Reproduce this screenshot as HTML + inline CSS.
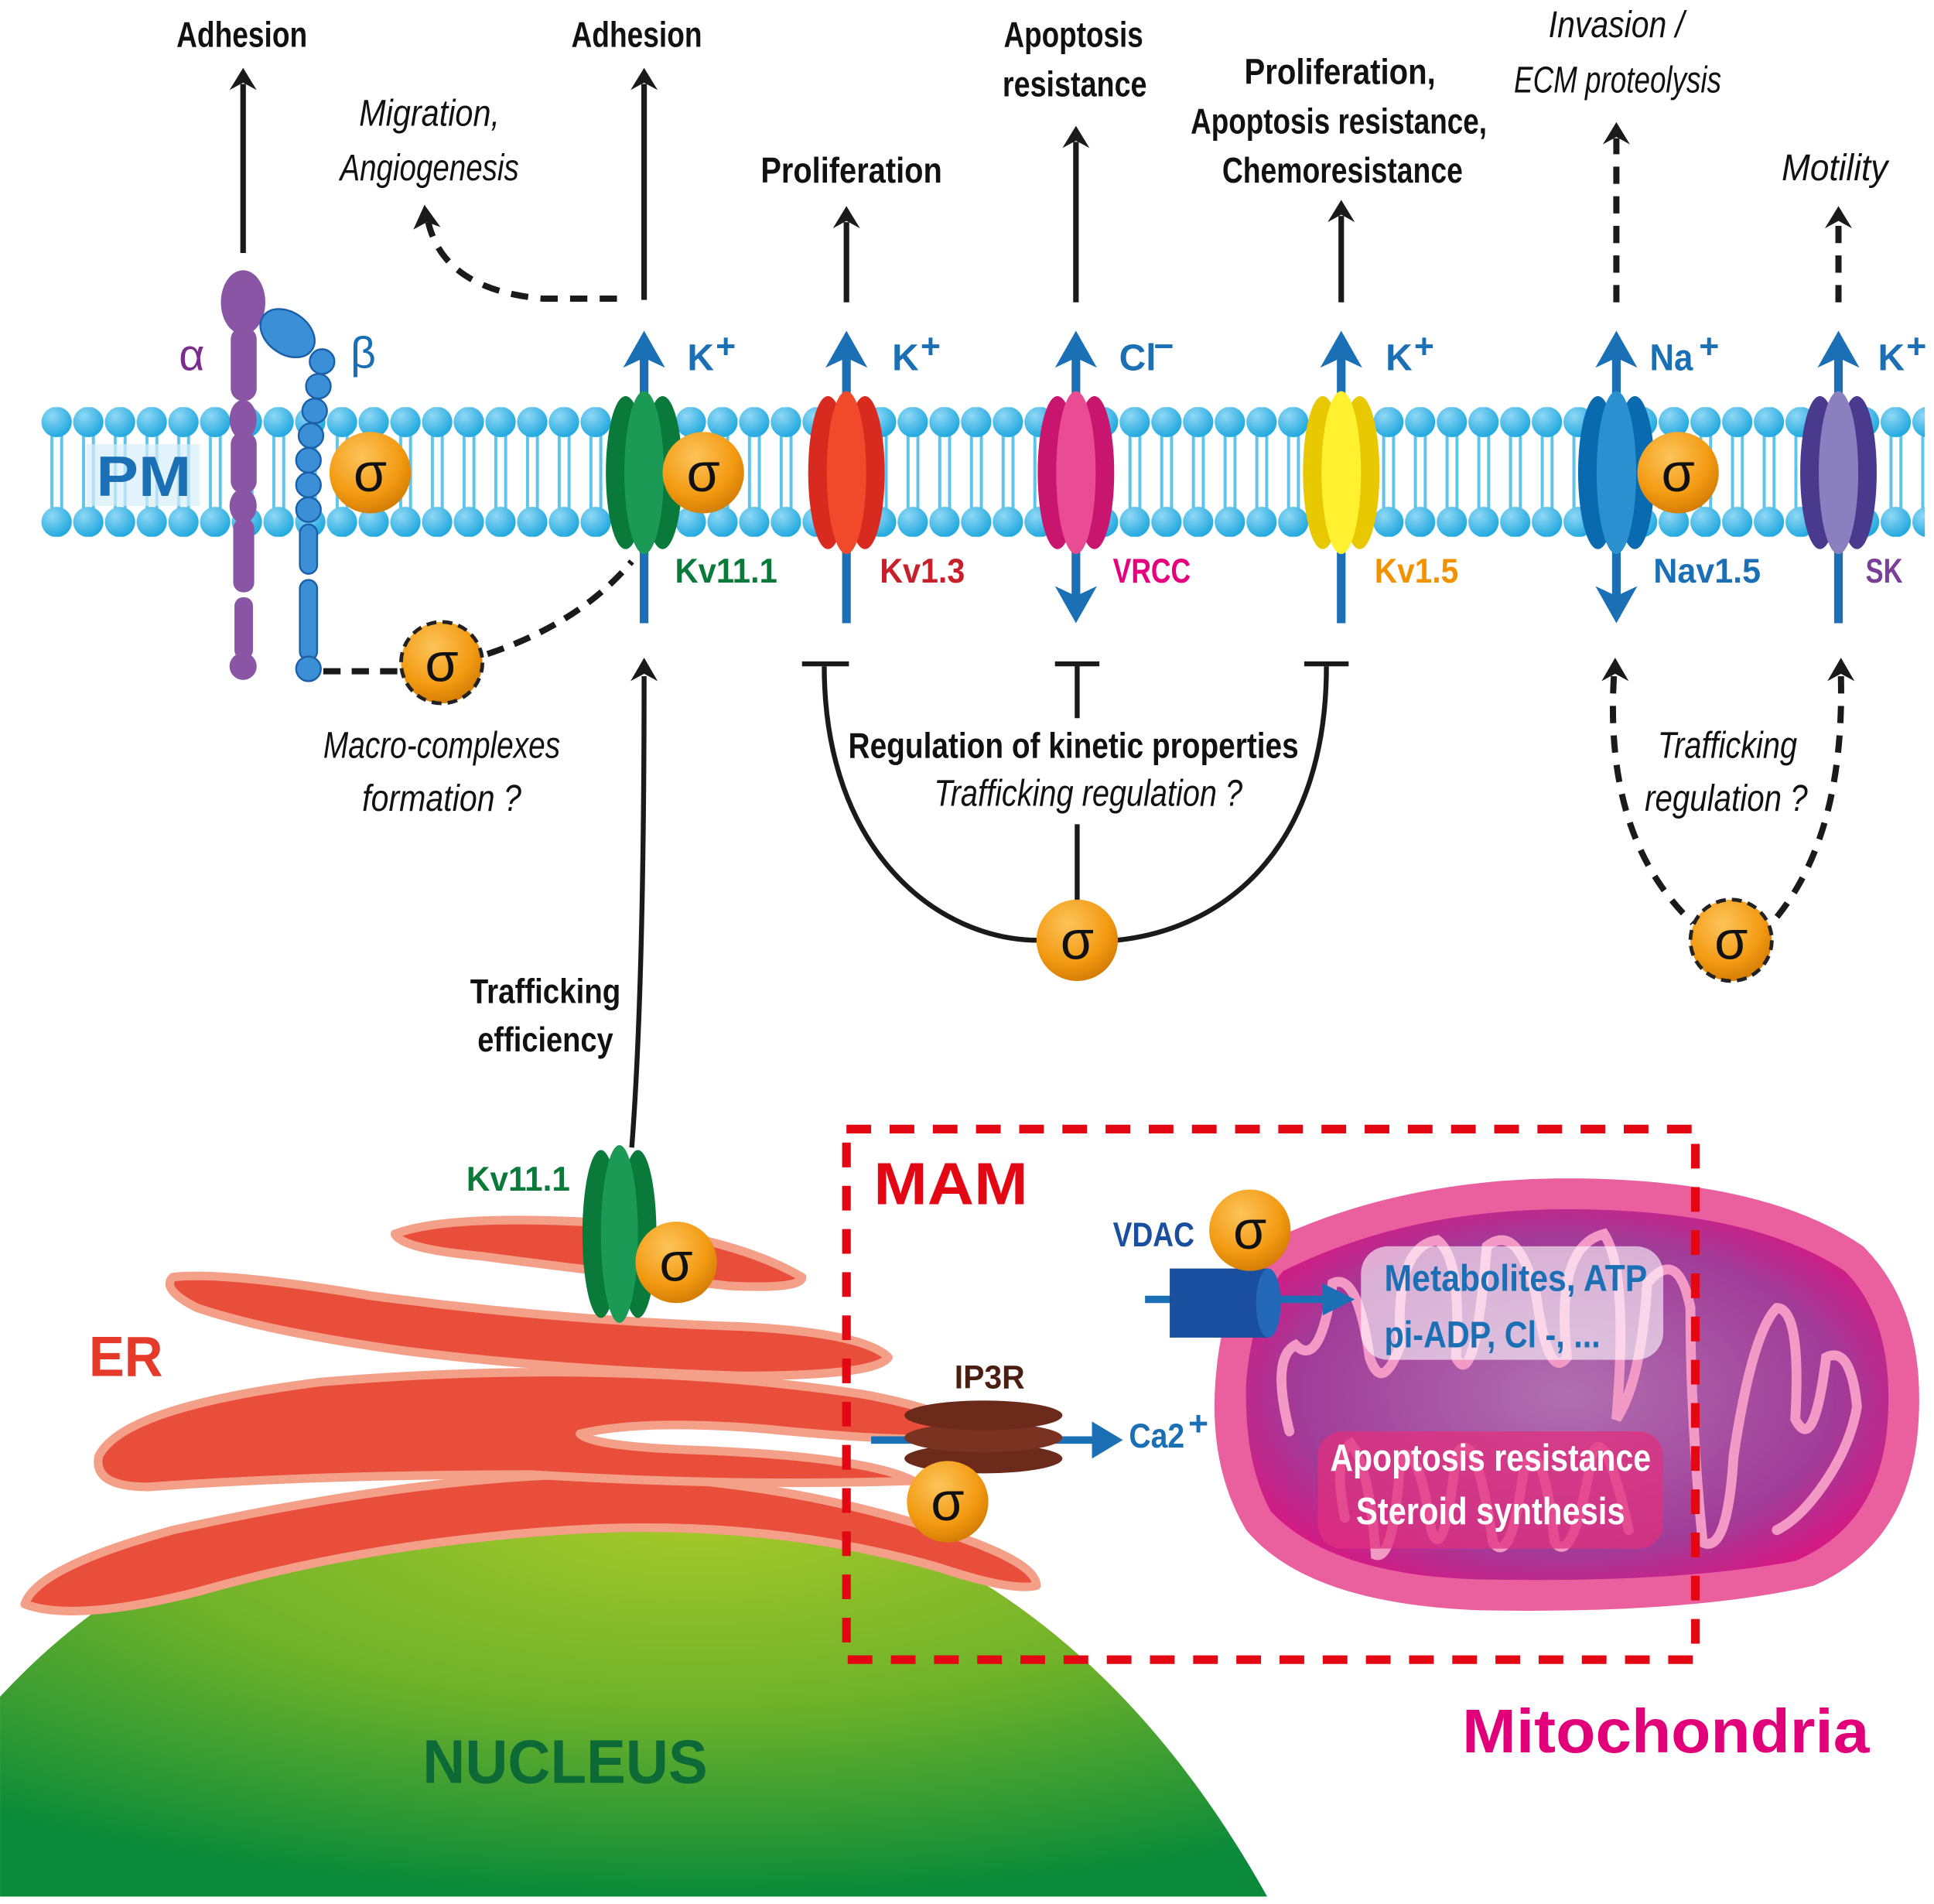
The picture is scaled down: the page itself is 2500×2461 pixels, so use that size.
<!DOCTYPE html>
<html><head><meta charset="utf-8"><style>
html,body{margin:0;padding:0;background:#fff}
svg{display:block}
text{font-family:"Liberation Sans Narrow","Liberation Sans",sans-serif}
.b{font-weight:bold}
.i{font-style:italic}
</style></head><body>
<svg width="2500" height="2461" viewBox="0 0 1567.4 1543" xmlns="http://www.w3.org/2000/svg">
<defs>
<radialGradient id="sg" cx="0.4" cy="0.3" r="0.8"><stop offset="0" stop-color="#fcc45a"/><stop offset="0.6" stop-color="#f39a12"/><stop offset="1" stop-color="#c87300"/></radialGradient>
<radialGradient id="hg" cx="0.35" cy="0.3" r="0.8"><stop offset="0" stop-color="#8fd8f5"/><stop offset="1" stop-color="#14a3dc"/></radialGradient>
<radialGradient id="ng" cx="0.55" cy="0.1" r="0.9"><stop offset="0" stop-color="#a6c82a"/><stop offset="0.5" stop-color="#6fb22a"/><stop offset="1" stop-color="#0a8a3a"/></radialGradient>
<radialGradient id="mg" cx="0.5" cy="0.5" r="0.6"><stop offset="0" stop-color="#b070b0"/><stop offset="0.7" stop-color="#a03c98"/><stop offset="1" stop-color="#e0127e"/></radialGradient>
<pattern id="lip" x="33" y="330" width="25.7" height="105" patternUnits="userSpaceOnUse">
<line x1="9" y1="20" x2="9" y2="86" stroke="#5ec4ec" stroke-width="2.5"/>
<line x1="17" y1="20" x2="17" y2="86" stroke="#5ec4ec" stroke-width="2.5"/>
<circle cx="12.85" cy="12" r="12.3" fill="url(#hg)"/>
<circle cx="12.85" cy="93" r="12.3" fill="url(#hg)"/>
</pattern>
</defs>

<!-- Nucleus -->
<path d="M0 1537 L0 1375 Q190 1170 530 1200 Q850 1220 1027 1537 Z" fill="url(#ng)"/>
<text x="458" y="1445" class="b" font-size="50" fill="#0b6a35" text-anchor="middle" textLength="231" lengthAdjust="spacingAndGlyphs">NUCLEUS</text>

<!-- ER -->
<g fill="#e84e3a" stroke="#f4a088" stroke-width="7" stroke-linejoin="round">
<path d="M20 1300 Q30 1270 140 1240 Q320 1200 460 1195 Q620 1195 760 1240 Q840 1265 840 1285 Q820 1290 760 1270 Q620 1230 460 1240 Q300 1250 160 1290 Q60 1315 20 1300 Z"/>
<path d="M80 1180 Q100 1140 260 1120 Q500 1100 700 1130 Q780 1145 790 1165 Q740 1170 620 1158 Q520 1150 470 1162 Q480 1172 560 1175 Q700 1180 740 1200 Q600 1205 430 1195 Q260 1195 120 1205 Q75 1205 80 1180 Z"/>
<path d="M140 1035 Q180 1030 300 1050 Q450 1070 600 1075 Q700 1080 720 1100 Q710 1115 600 1115 Q450 1110 330 1095 Q220 1080 160 1060 Q130 1045 140 1035 Z"/>
<path d="M320 1000 Q360 985 470 990 Q590 1000 650 1035 Q650 1045 590 1042 Q480 1030 390 1018 Q325 1012 320 1000 Z"/>
</g>
<text x="72" y="1115" class="b" font-size="46" fill="#e53a2a" textLength="60" lengthAdjust="spacingAndGlyphs">ER</text>

<!-- Mitochondria -->
<path d="M1020 1010 Q1130 955 1270 955 Q1430 955 1510 1010 Q1560 1060 1555 1150 Q1550 1250 1470 1285 Q1370 1308 1200 1305 Q1060 1300 1010 1240 Q980 1190 985 1120 Q990 1050 1020 1010 Z" fill="#ea5f9e"/>
<path d="M1040 1030 Q1140 980 1270 980 Q1420 980 1495 1030 Q1535 1070 1530 1150 Q1525 1235 1455 1265 Q1360 1283 1200 1280 Q1080 1277 1030 1225 Q1008 1185 1010 1120 Q1015 1060 1040 1030 Z" fill="url(#mg)"/>
<path d="M1045 1160 Q1030 1100 1050 1090 Q1070 1110 1080 1040 Q1100 1030 1110 1100 Q1120 1130 1135 1090 Q1130 1010 1165 1005 Q1185 1020 1180 1100 Q1195 1130 1205 1010 Q1230 990 1245 1050 Q1255 1120 1270 1100 Q1260 1010 1300 1000 Q1320 1030 1310 1150 Q1330 1120 1335 1040 Q1360 1010 1370 1060 Q1370 1150 1380 1250 Q1400 1260 1405 1180 Q1420 1080 1440 1060 Q1460 1060 1455 1150 Q1470 1180 1480 1100 Q1500 1090 1505 1140 Q1500 1170 1480 1200 Q1460 1230 1440 1240 M1090 1230 Q1080 1180 1095 1170 Q1110 1190 1115 1260 Q1130 1265 1135 1180 Q1150 1170 1160 1240 Q1170 1270 1180 1180 Q1195 1150 1210 1250 Q1225 1270 1235 1190 Q1250 1160 1260 1250 Q1275 1270 1290 1180 Q1300 1150 1320 1240" fill="none" stroke="#f29ac5" stroke-width="8" stroke-linecap="round"/>
<rect x="1103" y="1010" width="245" height="92" rx="22" fill="#fff" opacity="0.6"/>
<text x="1122" y="1046" class="b" font-size="30" fill="#1a6fb5" textLength="213" lengthAdjust="spacingAndGlyphs">Metabolites, ATP</text>
<text x="1122" y="1092" class="b" font-size="30" fill="#1a6fb5" textLength="175" lengthAdjust="spacingAndGlyphs">pi-ADP, Cl -, ...</text>
<rect x="1068" y="1160" width="280" height="95" rx="20" fill="#e0307e" opacity="0.75"/>
<text x="1208" y="1192" class="b" font-size="31" fill="#fff" text-anchor="middle" textLength="260" lengthAdjust="spacingAndGlyphs">Apoptosis resistance</text>
<text x="1208" y="1235" class="b" font-size="31" fill="#fff" text-anchor="middle" textLength="218" lengthAdjust="spacingAndGlyphs">Steroid synthesis</text>
<text x="1350" y="1420" class="b" font-size="50" fill="#e2007a" text-anchor="middle" textLength="330" lengthAdjust="spacingAndGlyphs">Mitochondria</text>

<!-- MAM -->
<rect x="686" y="915" width="688" height="430" fill="none" stroke="#e30613" stroke-width="7" stroke-dasharray="20 15"/>
<text x="708" y="976" class="b" font-size="48" fill="#e30613" textLength="125" lengthAdjust="spacingAndGlyphs">MAM</text>

<!-- VDAC -->
<line x1="928" y1="1053" x2="1080" y2="1053" stroke="#1a6fb5" stroke-width="6"/>
<polygon points="1072,1040 1098,1053 1072,1066" fill="#1a6fb5"/>
<rect x="948" y="1028" width="80" height="56" fill="#1a4f9f"/>
<ellipse cx="1028" cy="1056" rx="10" ry="28" fill="#2468b8"/>
<text x="902" y="1010" class="b" font-size="28" fill="#1a4f9f" textLength="66" lengthAdjust="spacingAndGlyphs">VDAC</text>
<circle cx="1013" cy="997" r="33" fill="url(#sg)"/><text x="1013" y="1012" font-size="44" text-anchor="middle" fill="#111">σ</text>

<!-- IP3R -->
<line x1="706" y1="1167" x2="895" y2="1167" stroke="#1a6fb5" stroke-width="6"/>
<polygon points="885,1152 910,1167 885,1182" fill="#1a6fb5"/>
<ellipse cx="797" cy="1182" rx="64" ry="12" fill="#6b2a1a"/>
<ellipse cx="797" cy="1165" rx="64" ry="12" fill="#7a3320"/>
<ellipse cx="797" cy="1147" rx="64" ry="12" fill="#6b2a1a"/>
<text x="802" y="1125" class="b" font-size="27" fill="#4a1e10" text-anchor="middle" textLength="57" lengthAdjust="spacingAndGlyphs">IP3R</text>
<text x="915" y="1173" class="b" font-size="28" fill="#1a6fb5" textLength="45" lengthAdjust="spacingAndGlyphs">Ca2</text><text x="963" y="1163" class="b" font-size="28" fill="#1a6fb5">+</text>
<circle cx="768" cy="1217" r="33" fill="url(#sg)"/><text x="768" y="1232" font-size="44" text-anchor="middle" fill="#111">σ</text>

<!-- ER Kv11.1 -->
<g fill="#0a7a3a"><ellipse cx="487" cy="1000" rx="15" ry="68"/><ellipse cx="517" cy="1000" rx="15" ry="68"/><ellipse cx="502" cy="1000" rx="15" ry="72" fill="#1a9a55"/></g>
<text x="378" y="965" class="b" font-size="28" fill="#0a7a3a" textLength="84" lengthAdjust="spacingAndGlyphs">Kv11.1</text>
<circle cx="548" cy="1023" r="33" fill="url(#sg)"/><text x="548" y="1038" font-size="44" text-anchor="middle" fill="#111">σ</text>
<path d="M512 930 Q522 800 522 548" fill="none" stroke="#1a1a1a" stroke-width="4"/>
<polygon points="511,552 522,533 533,552 522,546" fill="#1a1a1a"/>
<text x="442" y="813" class="b" font-size="28" fill="#111" text-anchor="middle" textLength="122" lengthAdjust="spacingAndGlyphs">Trafficking</text>
<text x="442" y="852" class="b" font-size="28" fill="#111" text-anchor="middle" textLength="110" lengthAdjust="spacingAndGlyphs">efficiency</text>

<!-- Membrane -->
<rect x="33" y="330" width="1527" height="105" fill="url(#lip)"/>
<rect x="70" y="360" width="92" height="50" fill="#d6eefa" opacity="0.7"/>
<text x="78" y="402" class="b" font-size="46" fill="#1a6fb5" textLength="77" lengthAdjust="spacingAndGlyphs">PM</text>

<!-- Integrin -->
<g fill="#8a55a5">
<ellipse cx="197" cy="245" rx="18" ry="26"/>
<rect x="187" y="265" width="21" height="60" rx="10"/>
<ellipse cx="197" cy="340" rx="11" ry="16"/><rect x="187" y="350" width="21" height="50" rx="10"/>
<ellipse cx="197" cy="410" rx="11" ry="14"/><rect x="189" y="420" width="17" height="60" rx="8"/>
<rect x="190" y="484" width="15" height="50" rx="7"/><circle cx="197" cy="540" r="11"/>
</g>
<text x="145" y="300" font-size="36" fill="#7b2d8e">α</text>
<g fill="#3a8fd6" stroke="#1a5fa8" stroke-width="1.5">
<ellipse cx="233" cy="270" rx="24" ry="17" transform="rotate(35 233 270)"/>
<circle cx="261" cy="293" r="10"/><circle cx="258" cy="313" r="10"/><circle cx="255" cy="333" r="10"/>
<circle cx="252" cy="353" r="10"/><circle cx="250" cy="373" r="10"/><circle cx="250" cy="393" r="10"/><circle cx="250" cy="413" r="10"/>
<rect x="243" y="425" width="14" height="40" rx="7"/><rect x="243" y="470" width="14" height="65" rx="7"/>
<circle cx="250" cy="542" r="10"/>
</g>
<text x="284" y="298" font-size="36" fill="#1a6fb5">β</text>
<circle cx="300" cy="383" r="33" fill="url(#sg)"/><text x="300" y="398" font-size="44" text-anchor="middle" fill="#111">σ</text>
<path d="M262 544 L325 544" fill="none" stroke="#1a1a1a" stroke-width="5" stroke-dasharray="14 9"/>
<path d="M395 530 Q470 505 512 455" fill="none" stroke="#1a1a1a" stroke-width="5" stroke-dasharray="14 9"/>
<circle cx="358" cy="537" r="33" fill="url(#sg)" stroke="#222" stroke-width="3" stroke-dasharray="8 5"/><text x="358" y="552" font-size="44" text-anchor="middle" fill="#111">σ</text>
<text x="358" y="614" class="i" font-size="30" fill="#111" text-anchor="middle" textLength="192" lengthAdjust="spacingAndGlyphs">Macro-complexes</text>
<text x="358" y="657" class="i" font-size="30" fill="#111" text-anchor="middle" textLength="129" lengthAdjust="spacingAndGlyphs">formation ?</text>

<!-- Blue ion arrows -->
<g stroke="#1a6fb5" stroke-width="7" fill="none">
<line x1="522" y1="505" x2="522" y2="285"/><line x1="686" y1="505" x2="686" y2="285"/>
<line x1="872" y1="490" x2="872" y2="285"/><line x1="1087" y1="505" x2="1087" y2="285"/>
<line x1="1310" y1="490" x2="1310" y2="285"/><line x1="1490" y1="505" x2="1490" y2="285"/>
</g>
<g fill="#1a6fb5">
<polygon points="505,298 522,268 539,298 522,290"/><polygon points="669,298 686,268 703,298 686,290"/>
<polygon points="855,298 872,268 889,298 872,290"/><polygon points="1070,298 1087,268 1104,298 1087,290"/>
<polygon points="1293,298 1310,268 1327,298 1310,290"/><polygon points="1473,298 1490,268 1507,298 1490,290"/>
<polygon points="855,475 872,505 889,475 872,483"/><polygon points="1293,475 1310,505 1327,475 1310,483"/>
</g>

<!-- Channels -->
<g><ellipse cx="507" cy="383" rx="16" ry="62" fill="#0a7a3a"/><ellipse cx="537" cy="383" rx="16" ry="62" fill="#0a7a3a"/><ellipse cx="522" cy="383" rx="16" ry="66" fill="#1a9a55"/></g>
<circle cx="570" cy="383" r="33" fill="url(#sg)"/><text x="570" y="398" font-size="44" text-anchor="middle" fill="#111">σ</text>
<g><ellipse cx="671" cy="383" rx="16" ry="62" fill="#d92a1f"/><ellipse cx="701" cy="383" rx="16" ry="62" fill="#d92a1f"/><ellipse cx="686" cy="383" rx="16" ry="66" fill="#f04a2a"/></g>
<g><ellipse cx="857" cy="383" rx="16" ry="62" fill="#c8156e"/><ellipse cx="887" cy="383" rx="16" ry="62" fill="#c8156e"/><ellipse cx="872" cy="383" rx="16" ry="66" fill="#ea4c94"/></g>
<g><ellipse cx="1072" cy="383" rx="16" ry="62" fill="#e8c800"/><ellipse cx="1102" cy="383" rx="16" ry="62" fill="#e8c800"/><ellipse cx="1087" cy="383" rx="16" ry="66" fill="#fff030"/></g>
<g><ellipse cx="1295" cy="383" rx="16" ry="62" fill="#0a6ab0"/><ellipse cx="1325" cy="383" rx="16" ry="62" fill="#0a6ab0"/><ellipse cx="1310" cy="383" rx="16" ry="66" fill="#2a90d0"/></g>
<circle cx="1360" cy="383" r="33" fill="url(#sg)"/><text x="1360" y="398" font-size="44" text-anchor="middle" fill="#111">σ</text>
<g><ellipse cx="1475" cy="383" rx="16" ry="62" fill="#4a3a8e"/><ellipse cx="1505" cy="383" rx="16" ry="62" fill="#4a3a8e"/><ellipse cx="1490" cy="383" rx="16" ry="66" fill="#8a80c0"/></g>

<!-- Ion labels -->
<g class="b" font-size="30" fill="#1a6fb5">
<text x="557" y="300">K</text><text x="580" y="290" font-size="28">+</text>
<text x="723" y="300">K</text><text x="746" y="290" font-size="28">+</text>
<text x="907" y="300">Cl</text><text x="935" y="290" font-size="28">−</text>
<text x="1123" y="300">K</text><text x="1146" y="290" font-size="28">+</text>
<text x="1337" y="300" textLength="35" lengthAdjust="spacingAndGlyphs">Na</text><text x="1377" y="290" font-size="28">+</text>
<text x="1522" y="300">K</text><text x="1545" y="290" font-size="28">+</text>
</g>
<g class="b" font-size="28">
<text x="547" y="472" fill="#0a7a3a" textLength="83" lengthAdjust="spacingAndGlyphs">Kv11.1</text>
<text x="713" y="472" fill="#c8202a" textLength="69" lengthAdjust="spacingAndGlyphs">Kv1.3</text>
<text x="902" y="472" fill="#e6007e" textLength="63" lengthAdjust="spacingAndGlyphs">VRCC</text>
<text x="1114" y="472" fill="#f39200" textLength="68" lengthAdjust="spacingAndGlyphs">Kv1.5</text>
<text x="1340" y="472" fill="#1a6fb5" textLength="87" lengthAdjust="spacingAndGlyphs">Nav1.5</text>
<text x="1512" y="472" fill="#7b3f98" textLength="30" lengthAdjust="spacingAndGlyphs">SK</text>
</g>

<!-- Black arrows top -->
<g stroke="#1a1a1a" stroke-width="4.5" fill="none">
<line x1="197" y1="205" x2="197" y2="68"/><line x1="522" y1="243" x2="522" y2="68"/>
<line x1="686" y1="245" x2="686" y2="180"/><line x1="872" y1="245" x2="872" y2="115"/>
<line x1="1087" y1="245" x2="1087" y2="175"/>
<line x1="1310" y1="245" x2="1310" y2="112" stroke-width="5" stroke-dasharray="14 10"/>
<line x1="1490" y1="245" x2="1490" y2="180" stroke-width="5" stroke-dasharray="14 10"/>
<path d="M500 242 L440 242 Q360 235 347 180" stroke-width="5" stroke-dasharray="14 10"/>
</g>
<g fill="#1a1a1a">
<polygon points="186,73 197,55 208,73 197,67"/><polygon points="511,73 522,55 533,73 522,67"/>
<polygon points="675,185 686,167 697,185 686,179"/><polygon points="861,120 872,102 883,120 872,114"/>
<polygon points="1076,180 1087,162 1098,180 1087,174"/><polygon points="1299,117 1310,99 1321,117 1310,111"/>
<polygon points="1479,185 1490,167 1501,185 1490,179"/><polygon points="335,186 344,166 357,184 346,180"/>
</g>
<g class="b" font-size="29" fill="#111" text-anchor="middle">
<text x="196" y="38" textLength="106" lengthAdjust="spacingAndGlyphs">Adhesion</text><text x="516" y="38" textLength="106" lengthAdjust="spacingAndGlyphs">Adhesion</text>
<text x="690" y="148" textLength="147" lengthAdjust="spacingAndGlyphs">Proliferation</text>
<text x="870" y="38" textLength="113" lengthAdjust="spacingAndGlyphs">Apoptosis</text><text x="871" y="78" textLength="117" lengthAdjust="spacingAndGlyphs">resistance</text>
<text x="1086" y="68" textLength="155" lengthAdjust="spacingAndGlyphs">Proliferation,</text><text x="1085" y="108" textLength="240" lengthAdjust="spacingAndGlyphs">Apoptosis resistance,</text><text x="1088" y="148" textLength="195" lengthAdjust="spacingAndGlyphs">Chemoresistance</text>
</g>
<g class="i" font-size="30" fill="#111" text-anchor="middle">
<text x="348" y="102" textLength="114" lengthAdjust="spacingAndGlyphs">Migration,</text><text x="348" y="146" textLength="145" lengthAdjust="spacingAndGlyphs">Angiogenesis</text>
<text x="1310" y="30" textLength="110" lengthAdjust="spacingAndGlyphs">Invasion /</text><text x="1311" y="75" textLength="168" lengthAdjust="spacingAndGlyphs">ECM proteolysis</text>
<text x="1487" y="146" textLength="86" lengthAdjust="spacingAndGlyphs">Motility</text>
</g>

<!-- Inhibition U -->
<g stroke="#1a1a1a" stroke-width="4" fill="none">
<path d="M668 540 C668 690 760 762 842 762"/>
<path d="M905 762 C1000 752 1075 680 1075 540"/>
<line x1="650" y1="538" x2="688" y2="538"/><line x1="855" y1="538" x2="891" y2="538"/><line x1="1057" y1="538" x2="1093" y2="538"/>
<line x1="873" y1="538" x2="873" y2="582"/><line x1="873" y1="668" x2="873" y2="730"/>
</g>
<circle cx="873" cy="762" r="33" fill="url(#sg)"/><text x="873" y="777" font-size="44" text-anchor="middle" fill="#111">σ</text>
<text x="870" y="614" class="b" font-size="29" fill="#111" text-anchor="middle" textLength="365" lengthAdjust="spacingAndGlyphs">Regulation of kinetic properties</text>
<text x="882" y="653" class="i" font-size="30" fill="#111" text-anchor="middle" textLength="250" lengthAdjust="spacingAndGlyphs">Trafficking regulation ?</text>

<!-- Nav/SK trafficking -->
<g stroke="#1a1a1a" stroke-width="5" fill="none" stroke-dasharray="14 10">
<path d="M1308 548 Q1300 680 1372 748"/><path d="M1492 548 Q1495 680 1436 748"/>
</g>
<g fill="#1a1a1a"><polygon points="1298,552 1309,533 1320,552 1309,546"/><polygon points="1481,552 1492,533 1503,552 1492,546"/></g>
<circle cx="1403" cy="762" r="33" fill="url(#sg)" stroke="#222" stroke-width="3" stroke-dasharray="8 5"/><text x="1403" y="777" font-size="44" text-anchor="middle" fill="#111">σ</text>
<text x="1400" y="614" class="i" font-size="30" fill="#111" text-anchor="middle" textLength="113" lengthAdjust="spacingAndGlyphs">Trafficking</text>
<text x="1399" y="657" class="i" font-size="30" fill="#111" text-anchor="middle" textLength="132" lengthAdjust="spacingAndGlyphs">regulation ?</text>
</svg>
</body></html>
